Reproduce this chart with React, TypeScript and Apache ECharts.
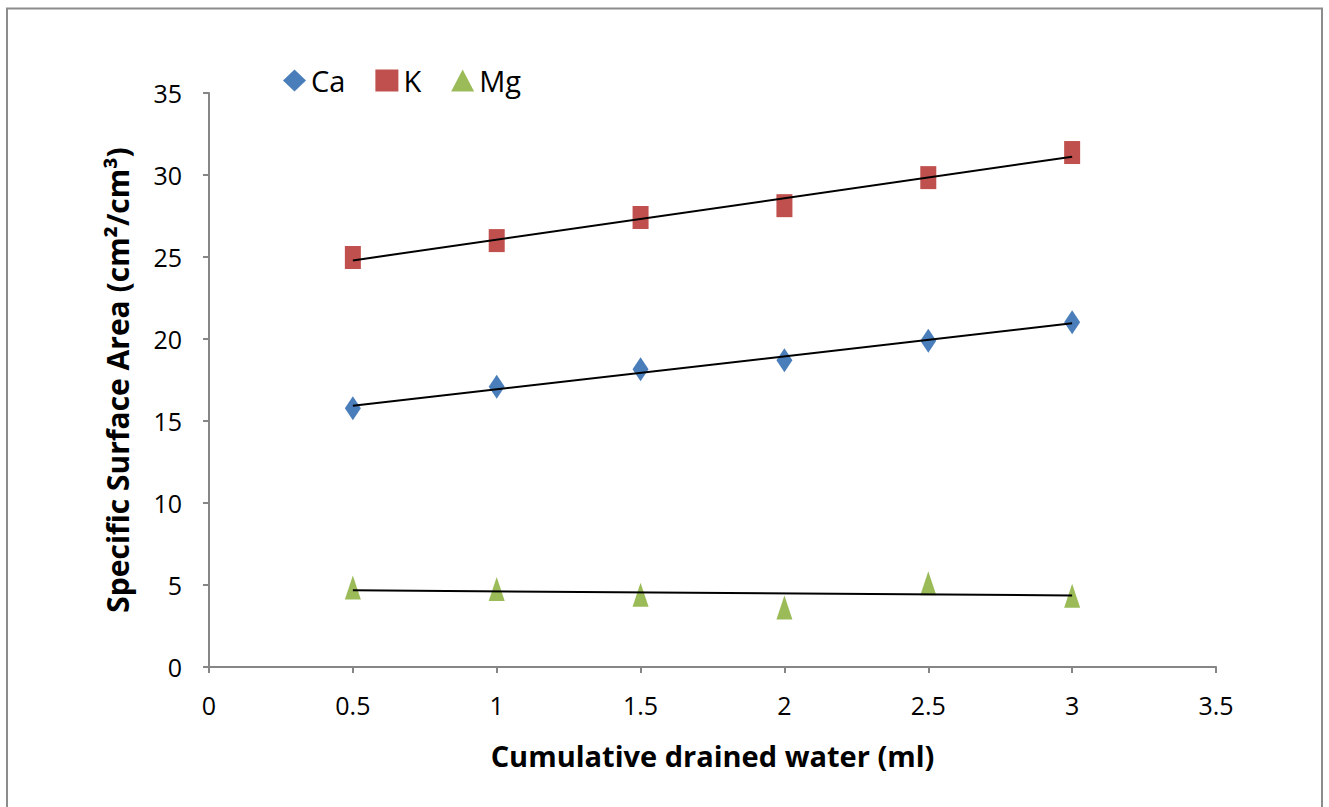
import React, { useEffect, useRef } from "react";
import * as echarts from "echarts";

const xValues = [0.5, 1, 1.5, 2, 2.5, 3];
const caValues = [15.77, 17.09, 18.16, 18.7, 19.9, 21.02];
const kValues = [24.97, 26.0, 27.41, 28.13, 29.84, 31.37];
const mgValues = [4.85, 4.75, 4.41, 3.63, 5.11, 4.35];
const xTicks = [0, 0.5, 1, 1.5, 2, 2.5, 3, 3.5];
const yTicks = [0, 5, 10, 15, 20, 25, 30, 35];

function fit(xs: number[], ys: number[]): number[][] {
  const n = xs.length;
  const mx = xs.reduce((a, b) => a + b, 0) / n;
  const my = ys.reduce((a, b) => a + b, 0) / n;
  let sxy = 0;
  let sxx = 0;
  for (let i = 0; i < n; i++) {
    sxy += (xs[i] - mx) * (ys[i] - my);
    sxx += (xs[i] - mx) * (xs[i] - mx);
  }
  const b = sxy / sxx;
  const a = my - b * mx;
  const x0 = xs[0];
  const x1 = xs[n - 1];
  return [
    [x0, a + b * x0],
    [x1, a + b * x1],
  ];
}

const FONT = "'Open Sans', sans-serif";

export default function App() {
  const ref = useRef<HTMLDivElement>(null);
  useEffect(() => {
    if (!ref.current) return;
    const chart = echarts.init(ref.current, null, { renderer: "svg" });
    const pts = (ys: number[]) => xValues.map((x, i) => [x, ys[i]]);
    const trend = (ys: number[]) => ({
      type: "line",
      data: fit(xValues, ys),
      symbol: "none",
      silent: true,
      lineStyle: { color: "#000", width: 2 },
      z: 3,
    });
    chart.setOption({
      animation: false,
      backgroundColor: "#fff",
      textStyle: { fontFamily: FONT },
      grid: { left: 209, right: 113, top: 93, bottom: 140, containLabel: false },
      legend: {
        left: 278,
        top: 61,
        itemWidth: 23,
        itemHeight: 22,
        itemGap: 30,
        textStyle: { fontSize: 29, color: "#000", fontFamily: FONT },
        data: [
          { name: "Ca", icon: "diamond", itemStyle: { color: "#4a7ebb", opacity: 1 } },
          { name: "K", icon: "rect", itemStyle: { color: "#c0504d", opacity: 1 } },
          { name: "Mg", icon: "triangle", itemStyle: { color: "#9bbb59", opacity: 1 } },
        ],
      },
      xAxis: {
        type: "value",
        min: 0,
        max: 3.5,
        interval: 0.5,
        name: "Cumulative drained water (ml)",
        nameLocation: "middle",
        nameGap: 74,
        nameTextStyle: { fontSize: 29, fontWeight: "bold", color: "#000", fontFamily: FONT },
        axisLine: { lineStyle: { color: "#868686", width: 2 } },
        axisTick: { show: true, length: 6, lineStyle: { color: "#868686", width: 2 } },
        splitLine: { show: false },
        axisLabel: {
          fontSize: 25,
          color: "#000",
          margin: 25,
          fontFamily: FONT,
          formatter: (v: number) => (xTicks.includes(v) ? String(v) : ""),
        },
      },
      yAxis: {
        type: "value",
        min: 0,
        max: 35,
        interval: 5,
        name: "Specific Surface Area (cm\u00b2/cm\u00b3)",
        nameLocation: "middle",
        nameGap: 77,
        nameRotate: 90,
        nameTextStyle: { fontSize: 30, fontWeight: "bold", color: "#000", fontFamily: FONT },
        axisLine: { show: true, lineStyle: { color: "#868686", width: 2 } },
        axisTick: { show: true, length: 6, lineStyle: { color: "#868686", width: 2 } },
        splitLine: { show: false },
        axisLabel: {
          fontSize: 25,
          color: "#000",
          margin: 27,
          fontFamily: FONT,
          formatter: (v: number) => (yTicks.includes(v) ? String(v) : ""),
        },
      },
      series: [
        {
          name: "Ca",
          type: "scatter",
          data: pts(caValues),
          symbol: "diamond",
          symbolSize: [16, 24],
          itemStyle: { color: "#4a7ebb", opacity: 1 },
          z: 2,
        },
        {
          name: "K",
          type: "scatter",
          data: pts(kValues),
          symbol: "rect",
          symbolSize: [16, 23],
          itemStyle: { color: "#c0504d", opacity: 1 },
          z: 2,
        },
        {
          name: "Mg",
          type: "scatter",
          data: pts(mgValues),
          symbol: "triangle",
          symbolSize: [16, 24],
          itemStyle: { color: "#9bbb59", opacity: 1 },
          z: 2,
        },
        trend(caValues),
        trend(kValues),
        trend(mgValues),
      ],
      graphic: [
        {
          type: "rect",
          shape: { x: 7, y: 8.5, width: 1315, height: 810 },
          style: { fill: "none", stroke: "#8c8c8c", lineWidth: 2 },
          silent: true,
        },
      ],
    });
    return () => chart.dispose();
  }, []);
  return (
    <div
      ref={ref}
      style={{ position: "fixed", left: 0, top: 0, width: 1329, height: 807 }}
    />
  );
}
